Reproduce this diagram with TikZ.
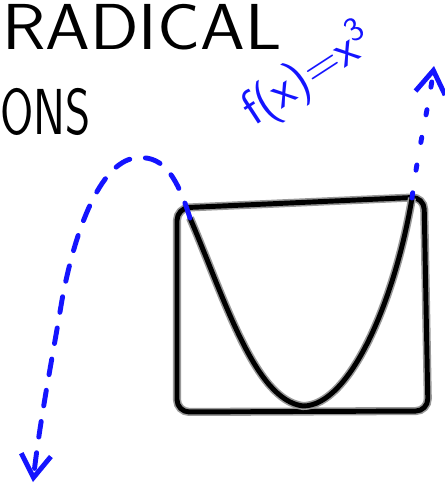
\documentclass[tikz,border=0pt]{standalone}
\usepackage{tikz}
\usetikzlibrary{arrows.meta}
\tikzset{
  pen/.style={line width=2.8pt, line cap=round, line join=round,
    preaction={draw=black!40, line width=4.6pt}},
  bluepen/.style={draw=ink, line width=2.8pt, line cap=round, line join=round},
  barb/.style={-{Straight Barb[length=13pt,width=17pt,line width=2.8pt]}},
  hand/.style={font=\sffamily\fontsize{37}{37}\selectfont, inner sep=0pt}
}

\begin{document}
\begin{tikzpicture}[x=0.02cm,y=-0.02cm]
\definecolor{ink}{RGB}{20,20,255}
\useasboundingbox (0,0) rectangle (444,492);
% headings
\node[hand, anchor=base west, xscale=1.1] (title) at (2,50) {RADICAL};
\node[hand, anchor=base west, xscale=0.74] (subtitle) at (0,135) {ONS};
% function label
\node[font=\sffamily\fontsize{28}{28}\selectfont, text=ink, rotate=33, inner sep=0pt]
  (func) at (308,76) {f(x)=x\textsuperscript{3}};
% graph frame
\draw[pen, rounded corners=7pt] (177,208) -- (424,197) -- (428,411) -- (177,412) -- cycle;
% parabola
\coordinate (pl) at (190,218);
\coordinate (pv) at (303,406);
\coordinate (pr) at (412,198);
\draw[pen] (pl) .. controls (225,300) and (255,400) .. (pv)
  .. controls (350,406) and (395,300) .. (pr);
% left branch falls away
\coordinate (fall) at (33,482);
\draw[bluepen, barb, dash pattern=on 9pt off 9pt] (pl)
  .. controls (175,170) and (160,155) .. (135,158)
  .. controls (100,163) and (75,230) .. (62,300)
  .. controls (52,360) and (40,420) .. (fall);
% right branch rises
\coordinate (rise) at (434,66);
\draw[bluepen, barb, dash pattern=on 3pt off 13pt] (pr)
  .. controls (418,150) and (428,110) .. (rise);
\end{tikzpicture}
\end{document}
